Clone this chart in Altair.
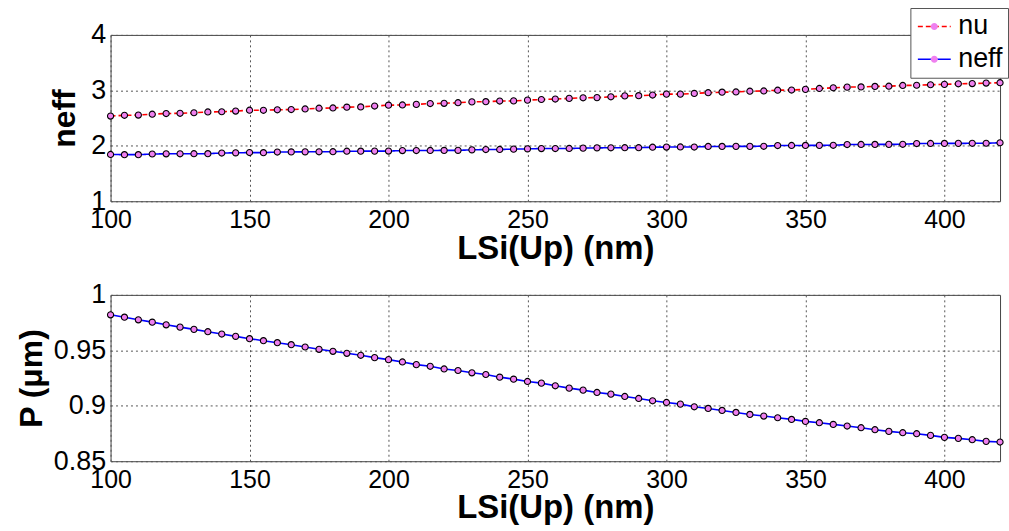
import altair as alt
import pandas as pd

# Silicon layer thickness LSi(Up) in nm
lsi_nm = [100, 105, 110, 115, 120, 125, 130, 135, 140, 145,
          150, 155, 160, 165, 170, 175, 180, 185, 190, 195,
          200, 205, 210, 215, 220, 225, 230, 235, 240, 245,
          250, 255, 260, 265, 270, 275, 280, 285, 290, 295,
          300, 305, 310, 315, 320, 325, 330, 335, 340, 345,
          350, 355, 360, 365, 370, 375, 380, 385, 390, 395,
          400, 405, 410, 415, 420]

nu = [2.536, 2.550, 2.554, 2.570, 2.582, 2.586, 2.596, 2.610, 2.614, 2.626,
      2.642, 2.640, 2.650, 2.654, 2.664, 2.678, 2.682, 2.697, 2.701, 2.717,
      2.733, 2.736, 2.747, 2.762, 2.766, 2.777, 2.792, 2.796, 2.807, 2.810,
      2.824, 2.835, 2.843, 2.855, 2.866, 2.869, 2.884, 2.900, 2.904, 2.915,
      2.932, 2.932, 2.945, 2.957, 2.967, 2.971, 2.985, 2.989, 3.003, 3.006,
      3.018, 3.034, 3.046, 3.058, 3.062, 3.071, 3.075, 3.088, 3.092, 3.101,
      3.108, 3.118, 3.122, 3.131, 3.138]

neff = [1.844, 1.840, 1.840, 1.852, 1.855, 1.856, 1.857, 1.858, 1.870, 1.873,
        1.878, 1.876, 1.888, 1.890, 1.891, 1.892, 1.893, 1.902, 1.903, 1.904,
        1.905, 1.914, 1.915, 1.916, 1.917, 1.918, 1.927, 1.933, 1.934, 1.940,
        1.945, 1.950, 1.951, 1.952, 1.958, 1.963, 1.964, 1.965, 1.966, 1.975,
        1.977, 1.979, 1.978, 1.988, 1.989, 1.990, 1.990, 1.991, 2.005, 2.006,
        2.007, 2.008, 2.009, 2.023, 2.024, 2.025, 2.026, 2.027, 2.041, 2.042,
        2.043, 2.044, 2.045, 2.046, 2.055]

# Grating period in micrometres
period_um = [0.9820, 0.9799, 0.9775, 0.9754, 0.9730, 0.9709, 0.9689, 0.9668, 0.9647, 0.9626,
             0.9605, 0.9587, 0.9569, 0.9551, 0.9530, 0.9509, 0.9491, 0.9473, 0.9455, 0.9434,
             0.9416, 0.9395, 0.9371, 0.9356, 0.9332, 0.9318, 0.9297, 0.9282, 0.9258, 0.9240,
             0.9219, 0.9204, 0.9180, 0.9159, 0.9141, 0.9120, 0.9105, 0.9084, 0.9066, 0.9045,
             0.9030, 0.9015, 0.8991, 0.8976, 0.8958, 0.8940, 0.8922, 0.8907, 0.8892, 0.8877,
             0.8859, 0.8847, 0.8832, 0.8817, 0.8802, 0.8784, 0.8769, 0.8757, 0.8748, 0.8733,
             0.8715, 0.8706, 0.8694, 0.8679, 0.8673]

series_names = ["nu", "neff"]
line_colors = ["#ff0000", "#0000ff"]
line_dashes = [[5, 3], [1, 0]]
x_ticks = [100, 150, 200, 250, 300, 350, 400]

FONT = "Liberation Sans"
MARKER_FILL = "#ef80ef"
PANEL_W, PANEL_H = 893, 167

top_df = pd.DataFrame({
    "LSi": lsi_nm + lsi_nm,
    "value": nu + neff,
    "series": ["nu"] * len(nu) + ["neff"] * len(neff),
})
top_df["marker"] = top_df["series"]

bottom_df = pd.DataFrame({"LSi": lsi_nm, "P": period_um})

x_enc = alt.X(
    "LSi:Q",
    scale=alt.Scale(domain=[100, 420], nice=False, zero=False),
    axis=alt.Axis(values=x_ticks, title="LSi(Up) (nm)"),
)

y_top = alt.Y(
    "value:Q",
    scale=alt.Scale(domain=[1, 4], nice=False, zero=False),
    axis=alt.Axis(values=[1, 2, 3, 4], format="~g", title="neff", titlePadding=9),
)

# Legend glyphs: a line sample and the circle marker sitting on its midpoint
LEG_X, LEG_Y = 803, -27
LABEL_SIZE = 27
SYMBOL_SIZE = 484
LINE_GLYPH = "M-1,0H2"
MARKER_GLYPH = "M0.18,0A0.32,0.32,0,1,0,0.82,0A0.32,0.32,0,1,0,0.18,0Z"

line_legend = alt.Legend(
    title=None, orient="none", legendX=LEG_X, legendY=LEG_Y, direction="vertical",
    symbolType=LINE_GLYPH, symbolSize=SYMBOL_SIZE, symbolStrokeWidth=1.6,
    labelFont=FONT, labelFontSize=LABEL_SIZE, labelColor="black", labelOffset=16,
    padding=5, rowPadding=5, fillColor="white", strokeColor="#555",
)
marker_legend = alt.Legend(
    title=None, orient="none", legendX=LEG_X, legendY=LEG_Y, direction="vertical",
    symbolType=MARKER_GLYPH, symbolSize=SYMBOL_SIZE, symbolStrokeWidth=1.6,
    symbolFillColor=MARKER_FILL, symbolStrokeColor="black",
    labelFont=FONT, labelFontSize=LABEL_SIZE, labelOpacity=0, labelOffset=16,
    padding=5, rowPadding=5,
)

top_lines = alt.Chart(top_df).mark_line(strokeWidth=1.6).encode(
    x=x_enc,
    y=y_top,
    color=alt.Color("series:N", scale=alt.Scale(domain=series_names, range=line_colors),
                    legend=line_legend),
    strokeDash=alt.StrokeDash("series:N", scale=alt.Scale(domain=series_names, range=line_dashes),
                              legend=line_legend),
)
top_points = alt.Chart(top_df).mark_point(
    filled=True, shape="circle", fill=MARKER_FILL, stroke="black", strokeWidth=1.1, size=38
).encode(
    x=x_enc,
    y=y_top,
    opacity=alt.Opacity("marker:O", sort=series_names,
                        scale=alt.Scale(range=[1, 1]),
                        legend=marker_legend),
)
top = alt.layer(top_lines, top_points).properties(width=PANEL_W, height=PANEL_H)

y_bottom = alt.Y(
    "P:Q",
    scale=alt.Scale(domain=[0.85, 1.0], nice=False, zero=False),
    axis=alt.Axis(values=[0.85, 0.9, 0.95, 1.0], format="~g", title="P (μm)", titlePadding=5),
)
bottom_line = alt.Chart(bottom_df).mark_line(strokeWidth=1.6, color="#0000ff").encode(
    x=x_enc, y=y_bottom
)
bottom_points = alt.Chart(bottom_df).mark_point(
    filled=True, shape="circle", fill=MARKER_FILL, stroke="black", strokeWidth=1.1, size=38, opacity=1
).encode(x=x_enc, y=y_bottom)
bottom = alt.layer(bottom_line, bottom_points).properties(width=PANEL_W, height=PANEL_H)

chart = (
    alt.vconcat(top, bottom, spacing=94, bounds="flush")
    .properties(padding={"left": 14, "top": 6, "right": 0, "bottom": 0})
    .configure_view(stroke="#444", strokeWidth=1)
    .configure_axis(
        labelFont=FONT, labelColor="black",
        titleFont=FONT, titleFontWeight="bold", titleColor="black",
        grid=True, gridColor="#555", gridDash=[2, 3], gridWidth=1, gridOpacity=1,
        domain=False, ticks=False, labelFlush=False, labelOverlap=False,
    )
    .configure_axisX(labelFontSize=25, labelPadding=6, titleFontSize=33, titlePadding=0)
    .configure_axisY(labelFontSize=27, labelPadding=5, titleFontSize=32)
)

chart.save("out.html", embed_options={"renderer": "svg", "actions": False})
